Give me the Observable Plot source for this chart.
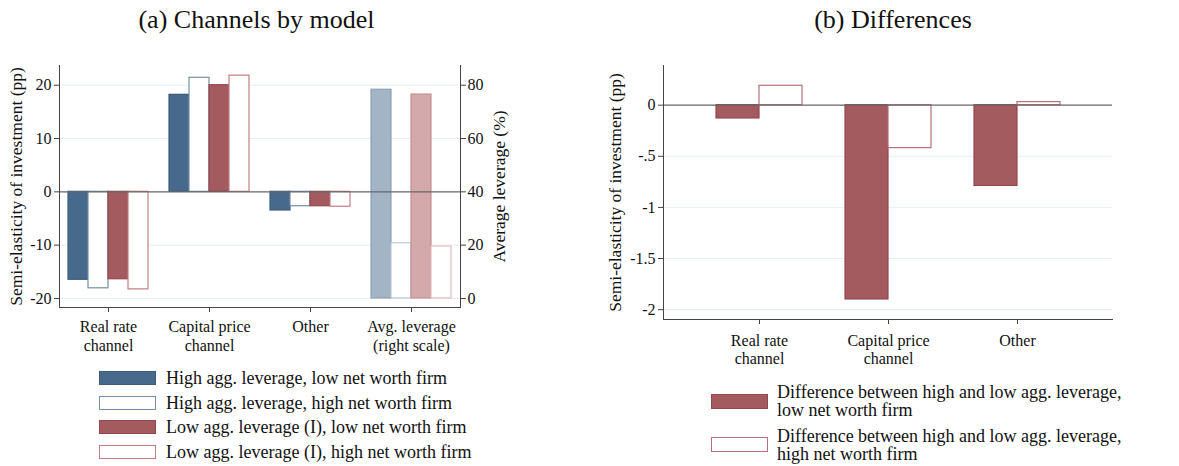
<!DOCTYPE html>
<html>
<head>
<meta charset="utf-8">
<script src="https://cdn.jsdelivr.net/npm/d3@7"></script>
<script src="https://cdn.jsdelivr.net/npm/@observablehq/plot@0.6"></script>
<style>
  body { margin: 0; background: #fff; font-family: "Liberation Serif", serif; color: #111; }
  #page { position: relative; width: 1179px; height: 466px; overflow: hidden; background: #fff; }
  .title { position: absolute; top: 5px; font-size: 26px; line-height: 29px; text-align: center; }
  .chart { position: absolute; top: 40px; }
  .chart svg text { font-family: "Liberation Serif", serif !important; }
  .chart g[aria-label="y-axis label"] text { font-size: 17.5px; }
  .row { position: absolute; display: flex; align-items: center; white-space: pre; font-size: 18px; line-height: 18px; }
  .sw { display: inline-block; box-sizing: border-box; flex: none; }
</style>
</head>
<body>
<div id="page">
  <div class="title" style="left:0;width:513px">(a) Channels by model</div>
  <div class="title" style="left:700px;width:386px">(b) Differences</div>
  <div class="chart" id="chart_a" style="left:0"></div>
  <div class="chart" id="chart_b" style="left:590px"></div>
  <div id="legend_a"></div>
  <div id="legend_b"></div>
</div>
<script>
// ---- panel (a) data
const categoriesA = ["Real rate channel", "Capital price channel", "Other", "Avg. leverage (right scale)"];
const tickLabelsA = ["Real rate\nchannel", "Capital price\nchannel", "Other", "Avg. leverage\n(right scale)"];
const seriesA = [
  "High agg. leverage, low net worth firm",
  "High agg. leverage, high net worth firm",
  "Low agg. leverage (I), low net worth firm",
  "Low agg. leverage (I), high net worth firm"
];
const hiLevLowNW = [-16.5, 18.2, -3.5];
const hiLevHighNW = [-18.1, 21.4, -2.7];
const loLevLowNW = [-16.4, 20.0, -2.7];
const loLevHighNW = [-18.3, 21.8, -2.8];
const avgLeverage = [78.3, 20.7, 76.5, 19.5]; // % , right scale, one per series
const yTicksA = [-20, -10, 0, 10, 20];
const rightTicksA = [0, 20, 40, 60, 80];

// ---- panel (b) data
const categoriesB = ["Real rate channel", "Capital price channel", "Other"];
const tickLabelsB = ["Real rate\nchannel", "Capital price\nchannel", "Other"];
const seriesB = [
  "Difference between high and low agg. leverage,\nlow net worth firm",
  "Difference between high and low agg. leverage,\nhigh net worth firm"
];
const diffLowNW = [-0.13, -1.90, -0.79];
const diffHighNW = [0.19, -0.42, 0.03];
const yTicksB = [-2, -1.5, -1, -0.5, 0];

// ---- styles
const fillA = ["#476a8c", "#ffffff", "#a45b60", "#ffffff"];
const strokeA = ["#3b5c7c", "#7590ab", "#94474d", "#c27d82"];
const levFill = ["#a3b4c5", "#ffffff", "#d3a9ac", "#ffffff"];
const levStroke = ["#8aa1b7", "#b9c7d5", "#c98e92", "#e2bcbf"];
const fillB = ["#a45b60", "#ffffff"];
const strokeB = ["#94474d", "#b5707a"];
const gridColor = "#e6eff1";
const axisColor = "#444";

// right scale (%) <-> left scale (pp)
const toLeft = v => (v - 40) / 2;
const toRight = v => v * 2 + 40;
const fmt = d => String(d).replace("0.", ".");

const valuesA = [hiLevLowNW, hiLevHighNW, loLevLowNW, loLevHighNW];
const barA = 20;
let marksA = [Plot.ruleY(yTicksA.filter(d => d != 0), {stroke: gridColor})];
valuesA.forEach((vals, i) => {
  const rows = vals.map((v, j) => ({cat: categoriesA[j], v}));
  marksA.push(Plot.barY(rows, {
    x: "cat", y1: () => 0, y2: "v",
    fill: fillA[i], stroke: strokeA[i], strokeWidth: 1.2,
    insetLeft: i * barA, insetRight: (3 - i) * barA
  }));
  marksA.push(Plot.barY([avgLeverage[i]], {
    x: () => categoriesA[3], y1: () => toLeft(0), y2: d => toLeft(d),
    fill: levFill[i], stroke: levStroke[i], strokeWidth: 1.2,
    insetLeft: i * barA, insetRight: (3 - i) * barA
  }));
});
marksA.push(
  Plot.ruleY([0], {stroke: "#666", strokeWidth: 1.2}),
  Plot.frame({anchor: "left", stroke: axisColor}),
  Plot.frame({anchor: "right", stroke: axisColor}),
  Plot.frame({anchor: "bottom", stroke: axisColor}),
  Plot.axisY({anchor: "left", ticks: yTicksA, tickFormat: fmt, tickSize: 5, tickPadding: 3,
    stroke: axisColor, fill: "#111",
    label: "Semi-elasticity of investment (pp)", labelAnchor: "center", labelArrow: false, labelOffset: 50}),
  Plot.axisY({anchor: "right", ticks: rightTicksA.map(toLeft), tickFormat: d => String(toRight(d)),
    tickSize: 5, tickPadding: 2, stroke: axisColor, fill: "#111",
    label: "Average leverage (%)", labelAnchor: "center", labelArrow: false, labelOffset: 44}),
  Plot.axisX({ticks: categoriesA, tickFormat: d => tickLabelsA[categoriesA.indexOf(d)],
    tickSize: 5, tickPadding: 6, lineHeight: 1.2, stroke: axisColor, fill: "#111", label: null})
);

const chartA = Plot.plot({
  width: 590, height: 330,
  marginLeft: 59, marginRight: 130, marginTop: 25, marginBottom: 63,
  style: {fontFamily: "Liberation Serif", fontSize: "16px", overflow: "visible", background: "transparent"},
  x: {type: "band", domain: categoriesA, paddingInner: 0.21, paddingOuter: 0.085},
  y: {domain: [-21.7, 23.7]},
  marks: marksA
});
d3.select("#chart_a").append(() => chartA);

const valuesB = [diffLowNW, diffHighNW];
const barB = 43;
let marksB = [Plot.ruleY(yTicksB.filter(d => d != 0), {stroke: gridColor})];
valuesB.forEach((vals, i) => {
  const rows = vals.map((v, j) => ({cat: categoriesB[j], v}));
  marksB.push(Plot.barY(rows, {
    x: "cat", y1: () => 0, y2: "v",
    fill: fillB[i], stroke: strokeB[i], strokeWidth: 1.2,
    insetLeft: i * barB, insetRight: (1 - i) * barB
  }));
});
marksB.push(
  Plot.ruleY([0], {stroke: "#666", strokeWidth: 1.2}),
  Plot.frame({anchor: "left", stroke: axisColor}),
  Plot.frame({anchor: "bottom", stroke: axisColor}),
  Plot.axisY({anchor: "left", ticks: yTicksB, tickFormat: fmt, tickSize: 5, tickPadding: 3,
    stroke: axisColor, fill: "#111",
    label: "Semi-elasticity of investment (pp)", labelAnchor: "center", labelArrow: false, labelOffset: 55}),
  Plot.axisX({ticks: categoriesB, tickFormat: d => tickLabelsB[categoriesB.indexOf(d)],
    tickSize: 5, tickPadding: 9, lineHeight: 1.1, stroke: axisColor, fill: "#111", label: null})
);

const chartB = Plot.plot({
  width: 589, height: 330,
  marginLeft: 73, marginRight: 67, marginTop: 25, marginBottom: 51,
  style: {fontFamily: "Liberation Serif", fontSize: "16px", overflow: "visible", background: "transparent"},
  x: {type: "band", domain: categoriesB, paddingInner: 0.335, paddingOuter: 0.397},
  y: {domain: [-2.096, 0.388]},
  marks: marksB
});
d3.select("#chart_b").append(() => chartB);

// ---- legends
const legA = d3.select("#legend_a");
seriesA.forEach((s, i) => {
  const row = legA.append("div").attr("class", "row")
    .style("left", "99px").style("top", (371 + i * 24.5) + "px").style("height", "14px");
  row.append("span").attr("class", "sw")
    .style("width", "57px").style("height", "14px")
    .style("background", fillA[i]).style("border", `1.5px solid ${strokeA[i]}`);
  row.append("span").style("margin-left", "10px").text(s);
});
const legB = d3.select("#legend_b");
seriesB.forEach((s, i) => {
  const row = legB.append("div").attr("class", "row")
    .style("left", "711px").style("top", (383 + i * 43.5) + "px").style("height", "36px");
  row.append("span").attr("class", "sw")
    .style("width", "57px").style("height", "15px")
    .style("background", fillB[i]).style("border", `1.5px solid ${strokeB[i]}`);
  row.append("span").style("margin-left", "9px").text(s);
});
</script>
</body>
</html>
